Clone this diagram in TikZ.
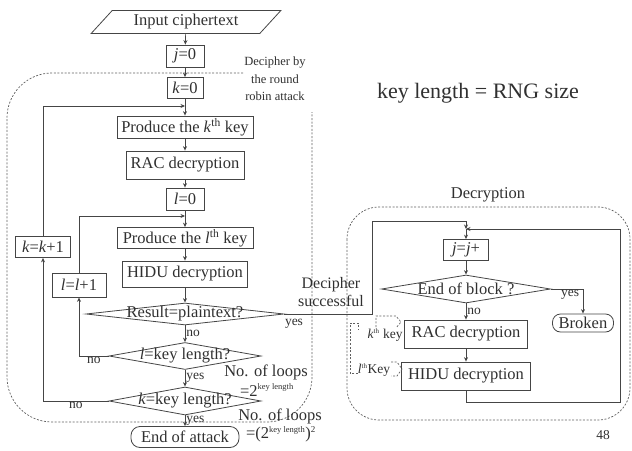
\documentclass[tikz,border=0pt]{standalone}
\usepackage{fontspec}
\setmainfont{Liberation Serif}
\usetikzlibrary{shapes.geometric,arrows.meta}
\definecolor{ln}{HTML}{454545}
\definecolor{tx}{HTML}{303030}
\definecolor{dl}{HTML}{606060}
\begin{document}
\begin{tikzpicture}[x=1pt,y=-1pt,
  every node/.style={text=tx, font=\fontsize{16.5}{18}\selectfont, inner sep=1pt},
  box/.style={draw=ln, line width=0.8pt, minimum height=22pt},
  decis/.style={draw=ln, line width=0.8pt, shape=diamond, inner sep=0pt},
  term/.style={draw=ln, line width=0.8pt, rounded corners=9pt, minimum height=21pt},
  para/.style={draw=ln, line width=0.8pt, shape=trapezium, trapezium left angle=48,
     trapezium right angle=132, trapezium stretches=true, minimum width=190pt, minimum height=23pt},
  arr/.style={draw=ln, line width=0.7pt, -{Stealth[length=4.5pt,width=4pt]}},
  dsh/.style={draw=dl, line width=0.7pt, dash pattern=on 2pt off 1.6pt},
  lbl/.style={font=\fontsize{13.5}{15}\selectfont},
  sm/.style={font=\fontsize{12.5}{17.5}\selectfont, align=center}]
\useasboundingbox (0,0) rectangle (632,450);

% ---------- dashed regions ----------
\draw[dsh, rounded corners=45pt] (243,73) -| (7,422) -| (312,112);
\draw[dsh, rounded corners=32pt] (347,207) rectangle (630,420);

% ---------- left flow ----------
\node[para] (in) at (186,22) {Input ciphertext};
\node[box, minimum width=38pt] (j0) at (185,56) {\textit{j}=0};
\node[box, minimum width=36pt, minimum height=21pt] (k0) at (185,88) {\textit{k}=0};
\node[box, minimum width=136pt] (pk) at (185,127) {Produce the \textit{k}\textsuperscript{th} key};
\node[box, minimum width=118pt, minimum height=28pt] (rac1) at (185,165) {RAC decryption};
\node[box, minimum width=38pt] (l0) at (185,199) {\textit{l}=0};
\node[box, minimum width=136pt, minimum height=21pt] (pl) at (185,238) {Produce the \textit{l}\textsuperscript{th} key};
\node[box, minimum width=125pt, minimum height=26pt] (hidu1) at (185,274) {HIDU decryption};
\node[decis, minimum width=198pt, minimum height=22pt] (res) at (185,314) {\makebox[0pt]{Result=plaintext?}};
\node[decis, minimum width=152pt, minimum height=27pt] (lk) at (185,356) {\makebox[0pt]{\textit{l}=key length?}};
\node[decis, minimum width=152pt, minimum height=28pt] (kk) at (185,401) {\makebox[0pt]{\textit{k}=key length?}};
\node[term, minimum width=108pt] (end) at (185,437) {End of attack};
\node[box, minimum width=55pt, minimum height=21pt] (kk1) at (43,247) {\textit{k}=\textit{k}+1};
\node[box, minimum width=54pt, minimum height=24pt] (ll1) at (79,285) {\textit{l}=\textit{l}+1};

\coordinate (jk) at (185,106);
\coordinate (jl) at (185,216);

\draw[arr] (in) -- (j0);
\draw[arr] (j0) -- (k0);
\draw[arr] (k0) -- (pk);
\draw[arr] (pk) -- (rac1);
\draw[arr] (rac1) -- (l0);
\draw[arr] (l0) -- (pl);
\draw[arr] (pl) -- (hidu1);
\draw[arr] (hidu1) -- (res);
\draw[arr] (res) -- node[lbl, right] {no} (lk);
\draw[arr] (lk) -- node[lbl, right] {yes} (kk);
\draw[arr] (kk) -- node[lbl, right] {yes} (end);
\draw[arr] (lk.west) -| node[lbl, below, pos=0.25] {no} (ll1.south);
\draw[arr] (ll1.north) |- (jl);
\draw[arr] (kk.west) -| node[lbl, below, pos=0.25] {no} (kk1.south);
\draw[arr] (kk1.north) |- (jk);

% ---------- texts left ----------
\node[sm] (dra) at (275,79) {Decipher by\\ the round\\ robin attack};
\node (nl1) at (266,372) {No. of loops};
\node (nl1v) at (267,390) {=2\textsuperscript{\fontsize{8.5}{9}\selectfont key length}};
\node (nl2) at (280,416) {No. of loops};
\node (nl2v) at (281,434) {=(2\textsuperscript{\fontsize{8.5}{9}\selectfont key length})\textsuperscript{\fontsize{9}{9}\selectfont 2}};
\node[font=\fontsize{22}{24}\selectfont] (rng) at (478,93) {key length = RNG size};

% ---------- right flow ----------
\node (dtitle) at (488,195) {Decryption};
\node[box, minimum width=45pt, minimum height=21pt] (jj) at (466,250) {\textit{j}=\textit{j}+};
\node[decis, minimum width=169pt, minimum height=28pt] (eob) at (466,289) {\makebox[0pt]{End of block ?}};
\node[box, minimum width=123pt, minimum height=28pt] (rac2) at (466,334) {RAC decryption};
\node[box, minimum width=129pt, minimum height=28pt] (hidu2) at (466,376) {HIDU decryption};
\node[term, minimum width=61pt, minimum height=18pt, rounded corners=8pt] (brk) at (583,323) {Broken};

\coordinate (turn) at (372,221);
\coordinate (jd) at (466,229);
\coordinate (rb) at (620,402);

\draw[arr] (res.east) -| (turn) -| (jd);
\draw[arr] (hidu2.south) |- (rb) |- (jd);
\draw[arr] (jd) -- (jj);
\draw[arr] (jj) -- (eob);
\draw[arr] (eob) -- node[lbl, right] {no} (rac2);
\draw[arr] (rac2) -- (hidu2);
\draw[arr] (eob.east) -| node[lbl, below, pos=0.3] {yes} (brk.north);

\node[lbl] (yes1) at (294,324) {yes};
\node[align=center, font=\fontsize{16}{17.5}\selectfont] (dsucc) at (331,292) {Decipher\\successful};

% ---------- key callouts ----------
\node[lbl] (kth) at (385,335) {\textit{k}\textsuperscript{\fontsize{7}{8}\selectfont th} key};
\node[lbl] (lth) at (374,370) {\textit{l}\textsuperscript{\fontsize{7}{8}\selectfont th}Key};
\draw[dsh] (376,327) -- (376,316) -- (396,316) -- (401,322) -- (396,328);
\draw[dsh] (358,373) -- (350,373) -- (350,323) -- (358,323) -- (358,330);
\draw[dsh] (391,362) -- (397,362) -- (402,369) -- (397,376) -- (391,376);

\node[lbl] (pg) at (603,435) {48};
\end{tikzpicture}
\end{document}
